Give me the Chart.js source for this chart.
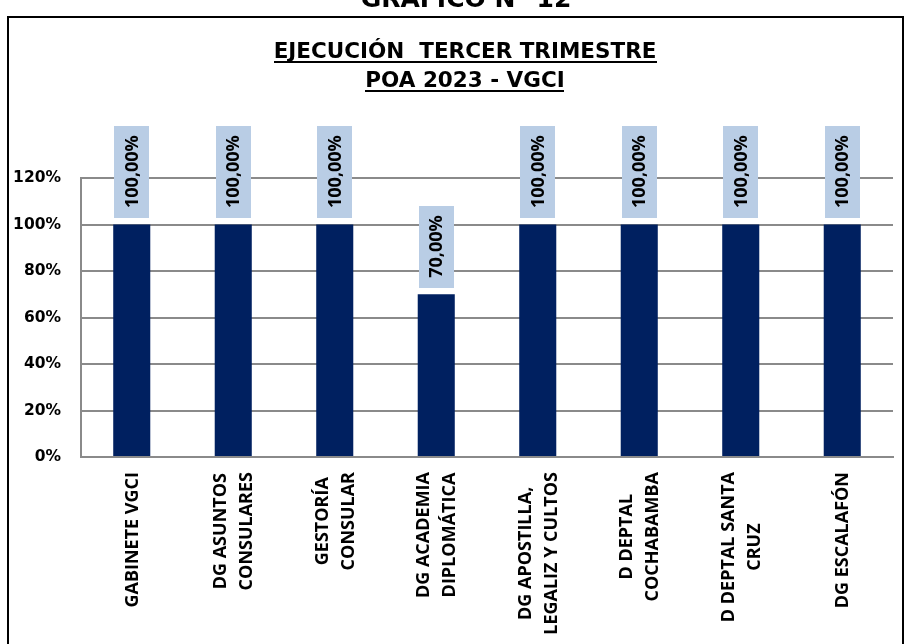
<!DOCTYPE html>
<html>
<head>
<meta charset="utf-8">
<script src="https://cdn.jsdelivr.net/npm/chart.js@4/dist/chart.umd.min.js"></script>
<style>
html,body{margin:0;padding:0;background:#fff;}
#wrap{width:910px;height:644px;position:relative;overflow:hidden;}
canvas{display:block;}
</style>
</head>
<body>
<div id="wrap"><canvas id="c" width="910" height="644"></canvas></div>
<script>
// ---- data ----
const caption = 'GRÁFICO N° 12';
const titleLines = ['EJECUCIÓN  TERCER TRIMESTRE', 'POA 2023 - VGCI'];
const categories = [
  ['GABINETE VGCI'],
  ['DG ASUNTOS', 'CONSULARES'],
  ['GESTORÍA', 'CONSULAR'],
  ['DG ACADEMIA', 'DIPLOMÁTICA'],
  ['DG APOSTILLA,', 'LEGALIZ Y CULTOS'],
  ['D DEPTAL', 'COCHABAMBA'],
  ['D DEPTAL SANTA', 'CRUZ'],
  ['DG ESCALAFÓN']
];
const values = [100, 100, 100, 70, 100, 100, 100, 100];
const yMin = 0, yMax = 120, yStep = 20;

// ---- style ----
const BAR = '#002060';
const BOX = '#B9CDE5';
const GRID = '#8a8a8a';
const HFONT = '"DejaVu Sans", sans-serif';
const RFONT = '"Open Sans", "Noto Sans", sans-serif';

function fmt(v){ return v.toFixed(2).replace('.', ',') + '%'; }

const decor = {
  id: 'decor',
  beforeDraw(chart){
    const ctx = chart.ctx;
    ctx.save();
    ctx.fillStyle = '#fff';
    ctx.fillRect(0, 0, chart.width, chart.height);
    ctx.restore();
  },
  afterDatasetsDraw(chart){
    const ctx = chart.ctx;
    const meta = chart.getDatasetMeta(0);
    ctx.save();
    ctx.font = 'bold 18px ' + RFONT;
    meta.data.forEach((bar, i) => {
      const txt = fmt(values[i]);
      const w = ctx.measureText(txt).width;
      const bh = w + 19, bw = 35;
      const bottom = bar.y - 7;
      const top = bottom - bh;
      ctx.fillStyle = BOX;
      ctx.fillRect(Math.round(bar.x - bw / 2), Math.round(top), bw, Math.round(bh));
      ctx.save();
      ctx.translate(bar.x, top + bh / 2);
      ctx.rotate(-Math.PI / 2);
      ctx.fillStyle = '#000';
      ctx.textAlign = 'center';
      ctx.textBaseline = 'middle';
      ctx.fillText(txt, 0, 1);
      ctx.restore();
    });
    ctx.restore();
  },
  afterDraw(chart){
    const ctx = chart.ctx;
    const xs = chart.scales.x;
    ctx.save();
    // outer border
    ctx.strokeStyle = '#000';
    ctx.lineWidth = 2;
    ctx.beginPath();
    ctx.moveTo(8, 660);
    ctx.lineTo(8, 17);
    ctx.lineTo(903, 17);
    ctx.lineTo(903, 660);
    ctx.stroke();
    // caption (cut off at the top)
    ctx.fillStyle = '#000';
    ctx.textAlign = 'center';
    ctx.textBaseline = 'alphabetic';
    ctx.font = 'bold 25px ' + HFONT;
    ctx.fillText(caption, 466, 7);
    // titles, underlined
    ctx.font = 'bold 21.5px ' + HFONT;
    const baselines = [58, 87];
    titleLines.forEach((t, i) => {
      const w = ctx.measureText(t).width;
      ctx.fillText(t, 465, baselines[i]);
      ctx.fillRect(Math.round(465 - w / 2), baselines[i] + 3, Math.round(w), 2);
    });
    // category labels, rotated, lines centred
    ctx.font = 'bold 18px ' + RFONT;
    ctx.textAlign = 'center';
    ctx.textBaseline = 'middle';
    const lh = 26;
    categories.forEach((lines, i) => {
      const px = xs.getPixelForTick(i);
      const maxW = Math.max(...lines.map(l => ctx.measureText(l).width));
      const cy = 472 + maxW / 2;
      lines.forEach((l, j) => {
        const lx = px + (j - (lines.length - 1) / 2) * lh;
        ctx.save();
        ctx.translate(lx, cy);
        ctx.rotate(-Math.PI / 2);
        ctx.fillText(l, 0, 1);
        ctx.restore();
      });
    });
    ctx.restore();
  }
};

new Chart(document.getElementById('c'), {
  type: 'bar',
  data: {
    labels: categories,
    datasets: [{
      data: values,
      backgroundColor: BAR,
      borderWidth: 0,
      barPercentage: 0.365,
      categoryPercentage: 1.0
    }]
  },
  options: {
    responsive: false,
    animation: false,
    devicePixelRatio: 1,
    layout: { padding: { top: 178, bottom: 187, left: 13, right: 17 } },
    plugins: { legend: { display: false }, title: { display: false }, tooltip: { enabled: false } },
    scales: {
      x: {
        grid: { display: false, drawTicks: false },
        border: { display: true, color: GRID, width: 2 },
        ticks: { display: false }
      },
      y: {
        min: yMin, max: yMax,
        afterFit(s){ s.width = 68; },
        grid: { color: GRID, lineWidth: 2, drawTicks: false },
        border: { display: true, color: GRID, width: 2 },
        ticks: {
          stepSize: yStep,
          padding: 20,
          color: '#000',
          font: { family: HFONT, size: 15.5, weight: 'bold' },
          callback: v => v + '%'
        }
      }
    }
  },
  plugins: [decor]
});
</script>
</body>
</html>
